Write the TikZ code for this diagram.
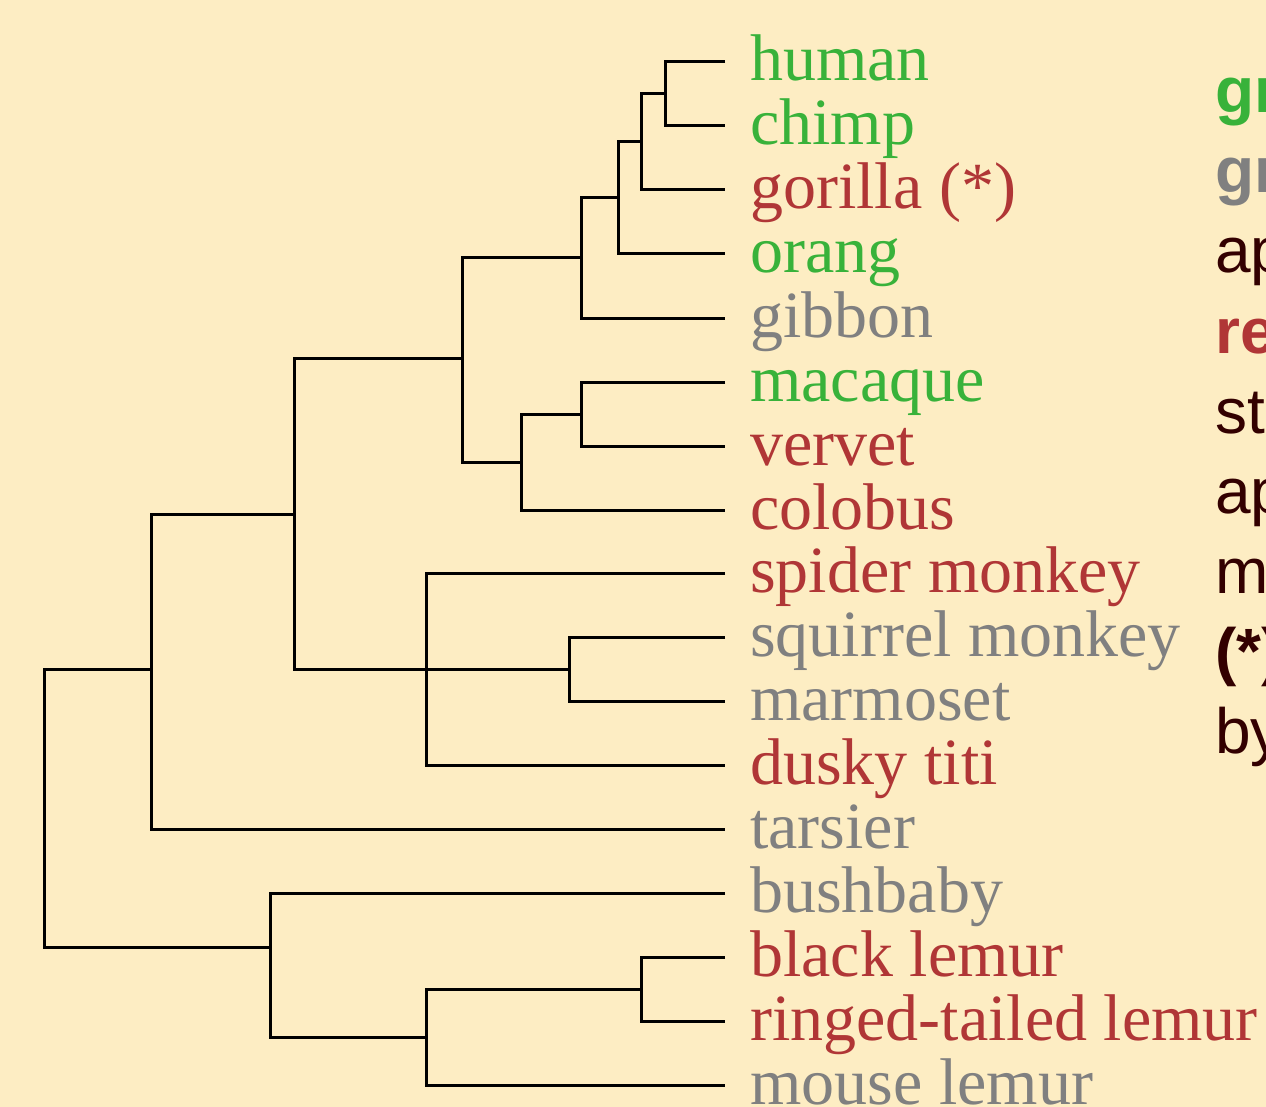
\documentclass[tikz,border=0pt]{standalone}
\usepackage{fontspec}
\setmainfont{Liberation Serif}
\setsansfont{Liberation Sans}
\definecolor{bg}{HTML}{FDEDC3}
\definecolor{tgreen}{HTML}{38B23A}
\definecolor{tred}{HTML}{B03636}
\definecolor{tgrey}{HTML}{808080}
\definecolor{tdark}{HTML}{330000}
\begin{document}
\begin{tikzpicture}[x=1pt,y=-1pt,
  branch/.style={line width=3pt,line join=miter,black},
  leaf/.style={anchor=base west,inner sep=0pt,font=\fontsize{66}{79}\selectfont},
  note/.style={anchor=base west,inner sep=0pt,font=\sffamily\fontsize{64}{77}\selectfont,text=tdark},
  noteb/.style={note,font=\sffamily\bfseries\fontsize{64}{77}\selectfont}]
\fill[bg] (0,0) rectangle (1266,1107);
\useasboundingbox (0,0) rectangle (1266,1107);
\begin{scope}
\clip (0,0) rectangle (1266,1107);
% leaf tips
\foreach \n/\y in {human/62,chimp/126,gorilla/190,orang/254,gibbon/318,macaque/382,vervet/446,colobus/510,spider/573,squirrel/637,marmoset/701,dusky/765,tarsier/829,bushbaby/893,black/957,ringed/1021,mouse/1085}{
  \coordinate (t-\n) at (725,\y);
}
% labels
\node[leaf,text=tgreen] (l-human) at (750,81) {human};
\node[leaf,text=tgreen] (l-chimp) at (750,145) {chimp};
\node[leaf,text=tred] (l-gorilla) at (750,209) {gorilla (*)};
\node[leaf,text=tgreen] (l-orang) at (750,273) {orang};
\node[leaf,text=tgrey] (l-gibbon) at (750,337) {gibbon};
\node[leaf,text=tgreen] (l-macaque) at (750,401) {macaque};
\node[leaf,text=tred] (l-vervet) at (750,465) {vervet};
\node[leaf,text=tred] (l-colobus) at (750,529) {colobus};
\node[leaf,text=tred] (l-spider) at (750,592) {spider monkey};
\node[leaf,text=tgrey] (l-squirrel) at (750,656) {squirrel monkey};
\node[leaf,text=tgrey] (l-marmoset) at (750,720) {marmoset};
\node[leaf,text=tred] (l-dusky) at (750,784) {dusky titi};
\node[leaf,text=tgrey] (l-tarsier) at (750,848) {tarsier};
\node[leaf,text=tgrey] (l-bushbaby) at (750,912) {bushbaby};
\node[leaf,text=tred] (l-black) at (750,976) {black lemur};
\node[leaf,text=tred] (l-ringed) at (750,1040) {ringed-tailed lemur};
\node[leaf,text=tgrey] (l-mouse) at (750,1104) {mouse lemur};
% internal nodes
\coordinate (hc) at (665,94);
\coordinate (hcg) at (641,142);
\coordinate (hcgo) at (618,198);
\coordinate (ape) at (581,258);
\coordinate (mv) at (581,414);
\coordinate (owm) at (521,462);
\coordinate (cat) at (462,358);
\coordinate (sm) at (569,669);
\coordinate (nwm) at (426,669);
\coordinate (anth) at (294,514);
\coordinate (hap) at (151,669);
\coordinate (lem) at (641,989);
\coordinate (lem2) at (426,1037);
\coordinate (strep) at (270,947);
\coordinate (root) at (44,669);
% branches
\draw[branch] (t-human) -| (hc) |- (t-chimp);
\draw[branch] (hc) -| (hcg) |- (t-gorilla);
\draw[branch] (hcg) -| (hcgo) |- (t-orang);
\draw[branch] (hcgo) -| (ape) |- (t-gibbon);
\draw[branch] (t-macaque) -| (mv) |- (t-vervet);
\draw[branch] (mv) -| (owm) |- (t-colobus);
\draw[branch] (ape) -| (cat) |- (owm);
\draw[branch] (t-squirrel) -| (sm) |- (t-marmoset);
\draw[branch] (t-spider) -| (nwm) |- (t-dusky);
\draw[branch] (sm) -- (nwm);
\draw[branch] (cat) -| (anth) |- (nwm);
\draw[branch] (anth) -| (hap) |- (t-tarsier);
\draw[branch] (t-black) -| (lem) |- (t-ringed);
\draw[branch] (lem) -| (lem2) |- (t-mouse);
\draw[branch] (t-bushbaby) -| (strep |- t-bushbaby) -- (strep |- lem2) -- (lem2);
\draw[branch] (hap) -| (root) |- (strep);
% side notes (cut off at the right edge)
\node[noteb,text=tgreen] (n1) at (1215,113) {gr};
\node[noteb,text=tgrey] (n2) at (1215,193) {gr};
\node[note] (n3) at (1215,273) {ap};
\node[noteb,text=tred] (n4) at (1215,353) {re};
\node[note] (n5) at (1215,433) {st};
\node[note] (n6) at (1215,513) {ap};
\node[note] (n7) at (1215,593) {m};
\node[noteb] (n8) at (1215,673) {(*)};
\node[note] (n9) at (1215,753) {by};
\end{scope}
\end{tikzpicture}
\end{document}
